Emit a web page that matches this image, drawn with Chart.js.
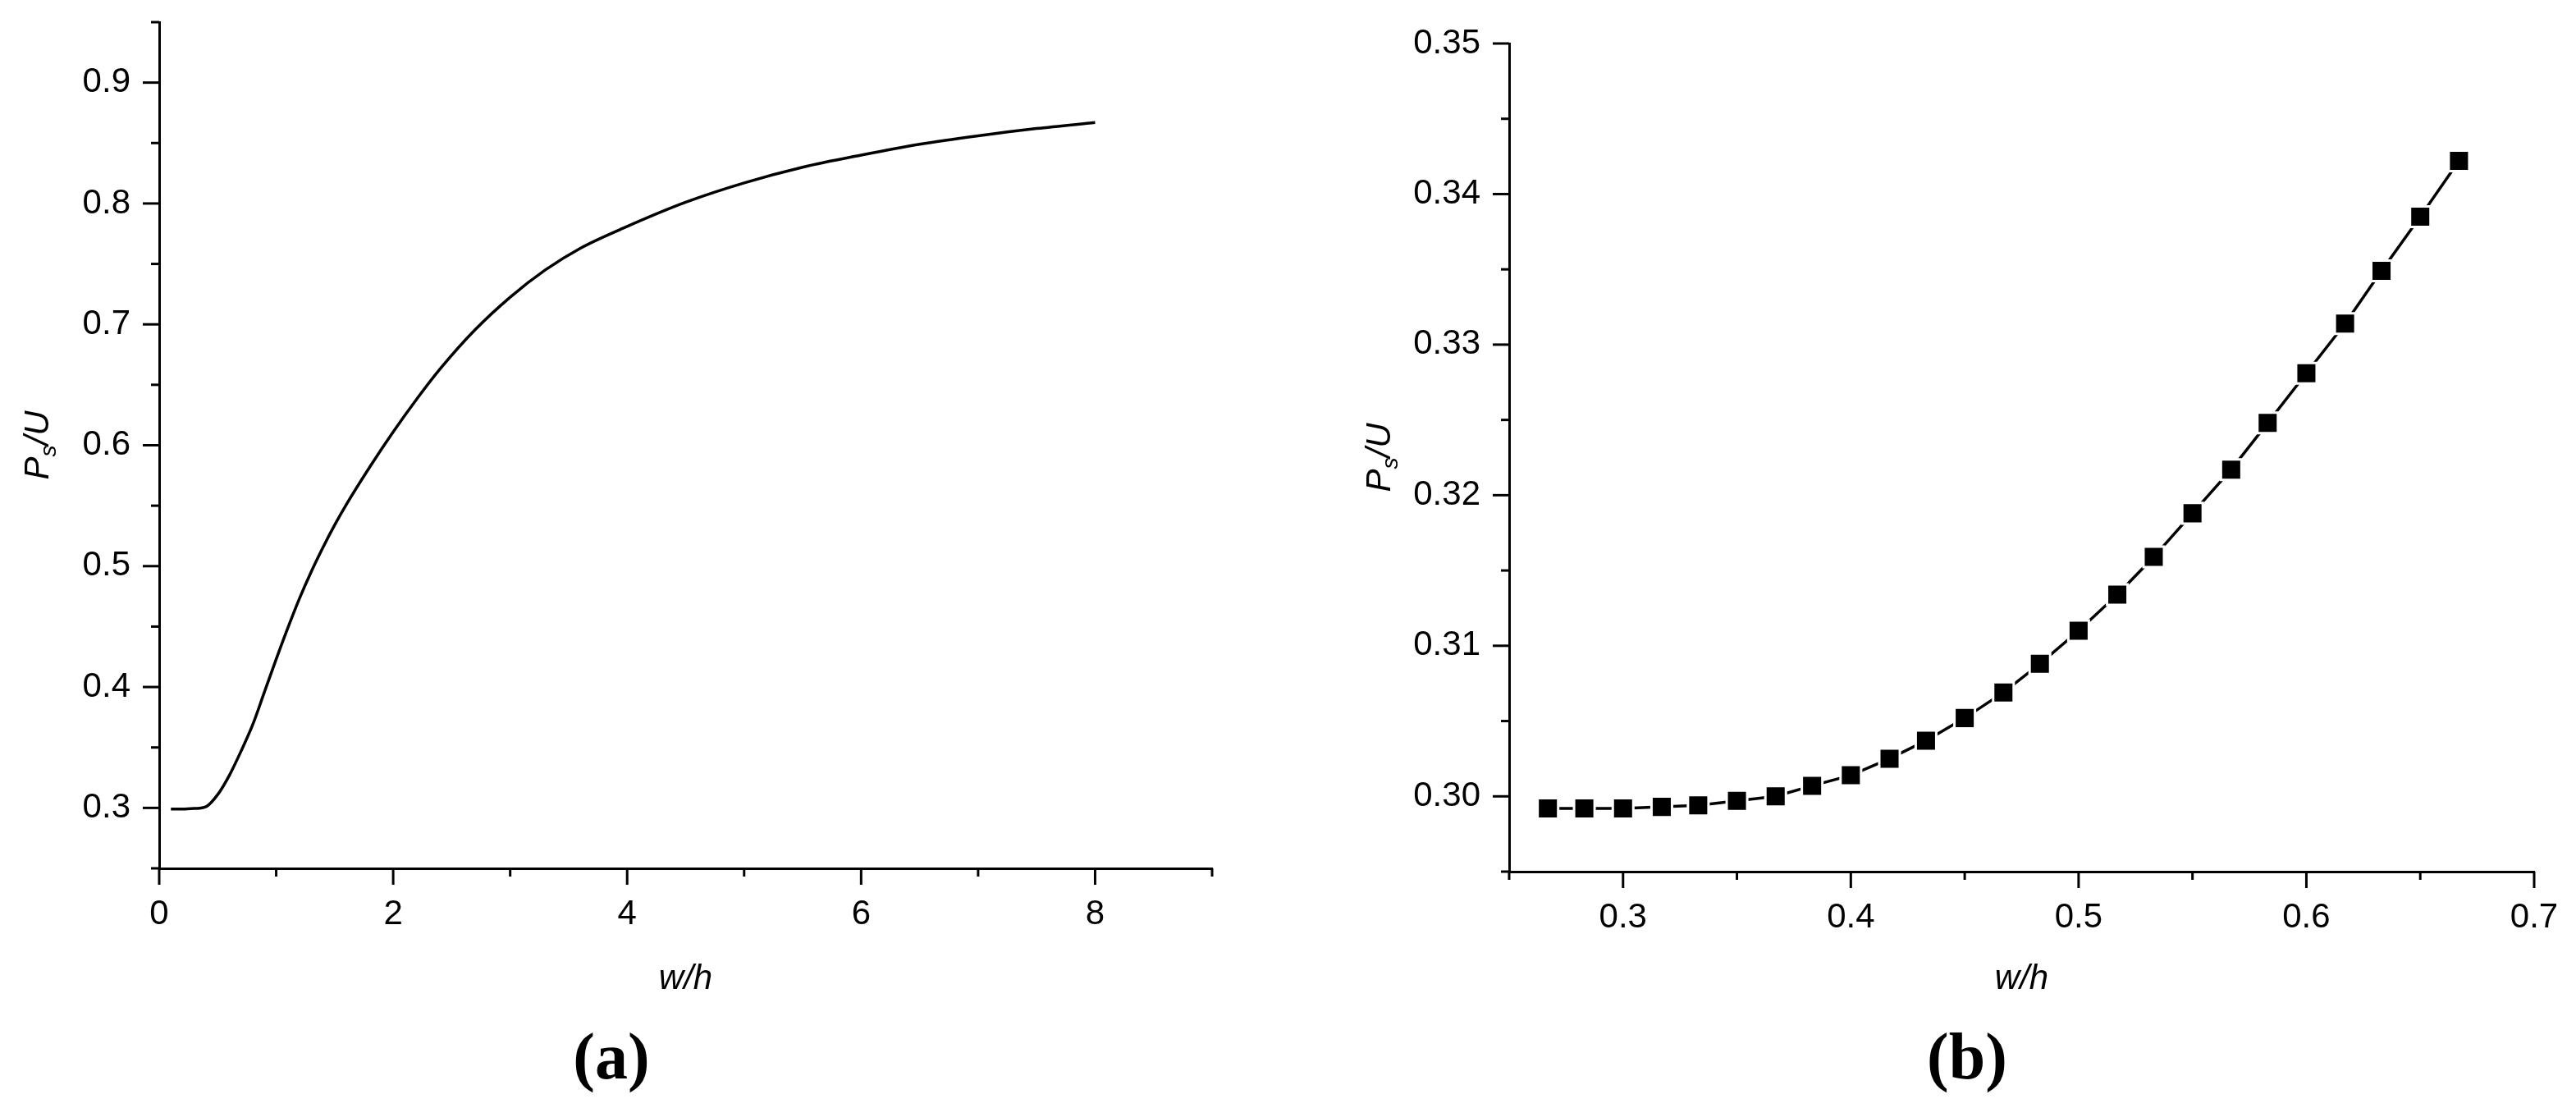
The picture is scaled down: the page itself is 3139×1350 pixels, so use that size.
<!DOCTYPE html>
<html>
<head>
<meta charset="utf-8">
<script src="https://cdn.jsdelivr.net/npm/chart.js@4.4.1/dist/chart.umd.min.js"></script>
<style>
  html, body { margin: 0; padding: 0; background: #fff; }
  #wrap { position: relative; width: 3139px; height: 1350px; }
  canvas { position: absolute; top: 0; }
</style>
</head>
<body>
<div id="wrap">
  <canvas id="chart-a" width="1570" height="1350" style="left:0"></canvas>
  <canvas id="chart-b" width="1569" height="1350" style="left:1570px"></canvas>
</div>
<script>
// (a) Ps/U against w/h
const aX = [0.1, 0.2, 0.3, 0.4, 0.5, 0.6, 0.7, 0.8, 0.9, 1.0, 1.1, 1.2, 1.3, 1.4, 1.5, 1.6, 1.8, 2.0, 2.2, 2.4, 2.7, 3.0, 3.3, 3.6, 4.0, 4.5, 5.0, 5.5, 6.0, 6.5, 7.0, 7.5, 8.0];
const aY = [0.299, 0.299, 0.2995, 0.301, 0.311, 0.327, 0.347, 0.369, 0.396, 0.423, 0.449, 0.4735, 0.4955, 0.5155, 0.534, 0.551, 0.582, 0.611, 0.638, 0.663, 0.6955, 0.7225, 0.745, 0.763, 0.781, 0.801, 0.817, 0.830, 0.840, 0.849, 0.856, 0.862, 0.867];

// (b) zoom on small w/h, square markers
const bX = [0.267, 0.283, 0.300, 0.317, 0.333, 0.350, 0.367, 0.383, 0.400, 0.417, 0.433, 0.450, 0.467, 0.483, 0.500, 0.517, 0.533, 0.550, 0.567, 0.583, 0.600, 0.617, 0.633, 0.650, 0.667];
const bY = [0.2992, 0.2992, 0.2992, 0.2993, 0.2994, 0.2997, 0.3000, 0.3007, 0.3014, 0.3025, 0.3037, 0.3052, 0.3069, 0.3088, 0.3110, 0.3134, 0.3159, 0.3188, 0.3217, 0.3248, 0.3281, 0.3314, 0.3349, 0.3385, 0.3422];

// tick labels and tick marks
const aXMajor = [0, 2, 4, 6, 8];
const aXMinor = [1, 3, 5, 7, 9];
const aYMajor = [0.3, 0.4, 0.5, 0.6, 0.7, 0.8, 0.9];
const aYMinor = [0.25, 0.35, 0.45, 0.55, 0.65, 0.75, 0.85, 0.95];
const bXMajor = [0.3, 0.4, 0.5, 0.6, 0.7];
const bXMinor = [0.25, 0.35, 0.45, 0.55, 0.65];
const bYMajor = [0.30, 0.31, 0.32, 0.33, 0.34, 0.35];
const bYMinor = [0.295, 0.305, 0.315, 0.325, 0.335, 0.345];

Chart.defaults.font.family = '"Liberation Sans", Arial, sans-serif';
Chart.defaults.font.size = 42;
Chart.defaults.color = '#000';

// outward major/minor tick marks, drawn from the scales
const axisTicks = {
    id: 'axisTicks',
    afterDraw(chart, args, opts) {
        const ctx = chart.ctx, a = chart.chartArea;
        const xs = chart.scales.x, ys = chart.scales.y;
        ctx.save();
        ctx.strokeStyle = '#000';
        ctx.lineWidth = 3;
        const mark = (vals, len, scale, isX) => vals.forEach(v => {
            const p = scale.getPixelForValue(v);
            ctx.beginPath();
            if (isX) { ctx.moveTo(p, a.bottom); ctx.lineTo(p, a.bottom + len); }
            else { ctx.moveTo(a.left, p); ctx.lineTo(a.left - len, p); }
            ctx.stroke();
        });
        mark(opts.xMajor, 20, xs, true);
        mark(opts.xMinor, 10, xs, true);
        mark(opts.yMajor, 20, ys, false);
        mark(opts.yMinor, 10, ys, false);
        ctx.restore();
    }
};

// y title with subscript, and the panel letter
const extraText = {
    id: 'extraText',
    afterDraw(chart, args, opts) {
        const ctx = chart.ctx, a = chart.chartArea;
        ctx.save();
        ctx.fillStyle = '#000';
        ctx.textBaseline = 'alphabetic';
        const big = 'italic 42px "Liberation Sans", Arial, sans-serif';
        const small = 'italic 28px "Liberation Sans", Arial, sans-serif';
        ctx.font = big; const wP = ctx.measureText('P').width; const wU = ctx.measureText('/U').width;
        ctx.font = small; const wS = ctx.measureText('s').width;
        const total = wP + wS + wU;
        ctx.translate(opts.yTitleX, (a.top + a.bottom) / 2);
        ctx.rotate(-Math.PI / 2);
        let x = -total / 2;
        ctx.font = big; ctx.fillText('P', x, 0); x += wP;
        ctx.font = small; ctx.fillText('s', x, 9); x += wS;
        ctx.font = big; ctx.fillText('/U', x, 0);
        ctx.restore();

        ctx.save();
        ctx.fillStyle = '#000';
        ctx.font = 'bold 80px "Liberation Serif", "Times New Roman", serif';
        ctx.textAlign = 'center';
        ctx.textBaseline = 'alphabetic';
        ctx.fillText(opts.panel, opts.panelX, opts.panelY);
        ctx.restore();
    }
};

function fixedScale(min, max, ticks, fmt, size, isX, pad) {
    return {
        type: 'linear', min, max,
        grid: { display: false, drawTicks: false },
        border: { display: true, color: '#000', width: 3 },
        ticks: { padding: pad, callback: v => fmt(v), maxRotation: 0, autoSkip: false },
        afterBuildTicks: s => { s.ticks = ticks.map(v => ({ value: v })); },
        afterFit: s => {
            if (isX) s.height = size; else s.width = size;
            s.paddingTop = 0; s.paddingBottom = 0; s.paddingLeft = 0; s.paddingRight = 0;
        }
    };
}

function makeChart(id, data, ds, cfg) {
    const xScale = fixedScale(cfg.xMin, cfg.xMax, cfg.xMajor, cfg.xFmt, cfg.xHeight, true, 31);
    xScale.title = { display: true, text: 'w/h', font: { style: 'italic', size: 42 }, padding: { top: 0, bottom: 131 } };
    const yScale = fixedScale(cfg.yMin, cfg.yMax, cfg.yMajor, cfg.yFmt, cfg.yWidth, false, 35);
    return new Chart(document.getElementById(id), {
        type: 'line',
        data: { datasets: [Object.assign({ data, borderColor: '#000', borderWidth: 3.5, fill: false }, ds)] },
        options: {
            responsive: false, animation: false, devicePixelRatio: 1,
            layout: { padding: cfg.padding },
            plugins: {
                legend: { display: false }, tooltip: { enabled: false },
                axisTicks: { xMajor: cfg.xMajor, xMinor: cfg.xMinor, yMajor: cfg.yMajor, yMinor: cfg.yMinor },
                extraText: { yTitleX: cfg.yTitleX, panel: cfg.panel, panelX: cfg.panelX, panelY: cfg.panelY }
            },
            scales: { x: xScale, y: yScale }
        },
        plugins: [axisTicks, extraText]
    });
}

makeChart('chart-a', aX.map((x, i) => ({ x, y: aY[i] })),
    { pointRadius: 0, cubicInterpolationMode: 'monotone' },
    {
        xMin: 0, xMax: 9, yMin: 0.25, yMax: 0.95,
        xMajor: aXMajor, xMinor: aXMinor, yMajor: aYMajor, yMinor: aYMinor,
        xFmt: v => String(v), yFmt: v => v.toFixed(1),
        padding: { left: 0, top: 27, right: 93, bottom: 0 }, yWidth: 194, xHeight: 292,
        yTitleX: 59, panel: '(a)', panelX: 745, panelY: 1314
    });

makeChart('chart-b', bX.map((x, i) => ({ x, y: bY[i] })),
    { pointStyle: 'rect', pointRadius: 17.7, pointBackgroundColor: '#000', pointBorderColor: '#fff', pointBorderWidth: 3, tension: 0 },
    {
        xMin: 0.25, xMax: 0.7, yMin: 0.295, yMax: 0.35,
        xMajor: bXMajor, xMinor: bXMinor, yMajor: bYMajor, yMinor: bYMinor,
        xFmt: v => v.toFixed(1), yFmt: v => v.toFixed(2),
        padding: { left: 0, top: 53, right: 51, bottom: 0 }, yWidth: 269, xHeight: 288,
        yTitleX: 124, panel: '(b)', panelX: 827, panelY: 1314
    });
</script>
</body>
</html>
